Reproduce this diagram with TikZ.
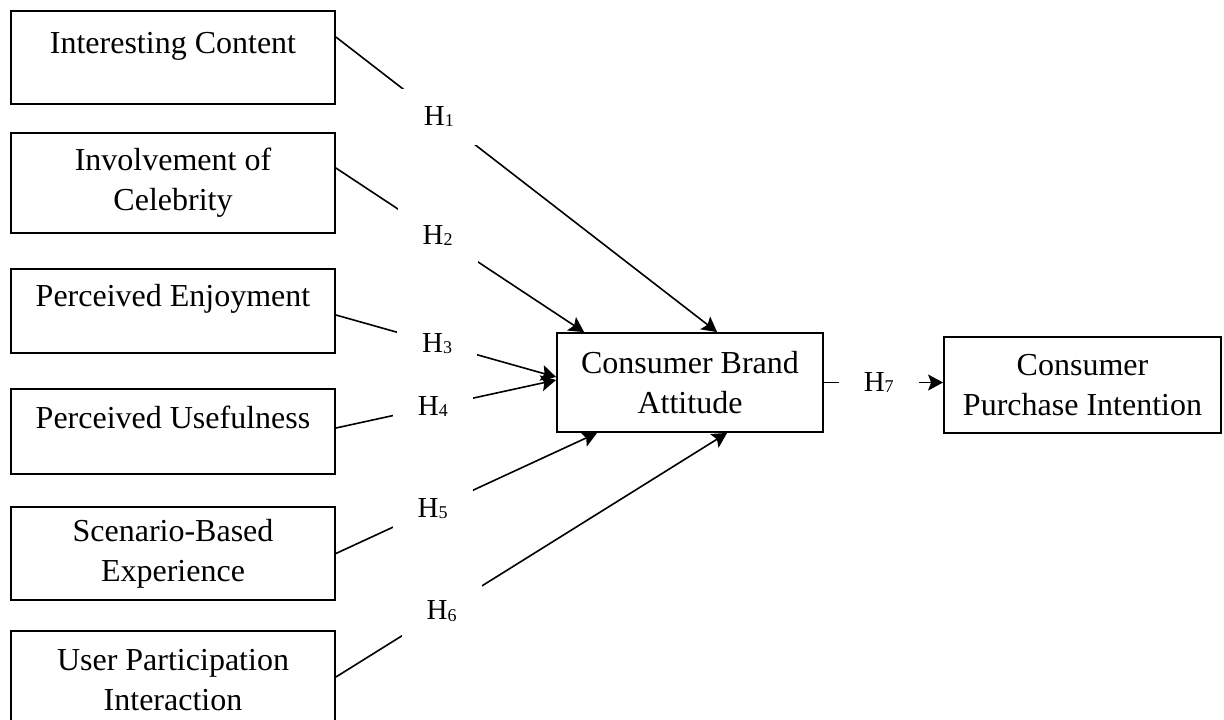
\documentclass[tikz,border=0pt]{standalone}
\usepackage{fontspec}
\setmainfont{Liberation Serif}
\usetikzlibrary{arrows.meta}
\newcommand{\hname}[1]{H\raisebox{-0.6pt}{\fontsize{9}{10}\selectfont #1}}
\tikzset{
  construct/.style={draw,line width=0.9pt,minimum width=162pt,align=center,inner sep=1pt,font=\fontsize{16}{20}\selectfont},
  outcome/.style={construct,minimum width=133pt,minimum height=49.5pt},
  hyp/.style={fill=white,minimum width=40pt,minimum height=28pt,inner sep=0pt,font=\fontsize{14.5}{16}\selectfont},
  link/.style={draw,line width=0.8pt,-{Stealth[length=7.5pt,width=8pt,inset=1.5pt]}}
}

\begin{document}
\begin{tikzpicture}[x=0.5pt,y=-0.5pt]
  \useasboundingbox (0,0) rectangle (1224,719);
  \node[construct,minimum height=46.5pt] (ic) at (173,57.5) {Interesting Content\\[-5pt] ~};
  \node[construct,minimum height=50pt] (ioc) at (173,183) {Involvement of\\Celebrity};
  \node[construct,minimum height=42pt] (pe) at (173,311) {Perceived Enjoyment\\[-4pt] ~};
  \node[construct,minimum height=42.5pt] (pu) at (173,431.5) {Perceived Usefulness\\[-6pt] ~};
  \node[construct,minimum height=46.5pt] (sbe) at (173,553.5) {Scenario-Based\\Experience};
  \node[construct,minimum height=49pt] (upi) at (173,680) {User Participation\\Interaction};
  \node[outcome] (cba) at (690,382.5) {Consumer Brand\\Attitude};
  \node[outcome,minimum width=138.5pt,minimum height=48pt] (cpi) at (1082.5,385) {Consumer\\Purchase Intention};

  \draw[link] ([yshift=10.25pt]ic.east) -- node[hyp,pos=.27] (h1) {\hname{1}} ([xshift=80.5pt]cba.north west);
  \draw[link] ([yshift=7.5pt]ioc.east) -- node[hyp,pos=.41] (h2) {\hname{2}} ([xshift=14pt]cba.north west);
  \draw[link] ([yshift=-2pt]pe.east) -- node[hyp,pos=.46] (h3) {\hname{3}} ([yshift=2.75pt]cba.west);
  \draw[link] ([yshift=1.75pt]pu.east) -- node[hyp,pos=.44] (h4) {\hname{4}} ([yshift=1.25pt]cba.west);
  \draw[link] (sbe.east) -- node[hyp,pos=.37] (h5) {\hname{5}} ([xshift=20.5pt]cba.south west);
  \draw[link] ([yshift=1.5pt]upi.east) -- node[hyp,pos=.27] (h6) {\hname{6}} ([xshift=85.5pt]cba.south west);
  \draw[link] (cba.east) -- node[hyp,pos=.46] (h7) {\hname{7}} (cba.east -| cpi.west);
\end{tikzpicture}
\end{document}
